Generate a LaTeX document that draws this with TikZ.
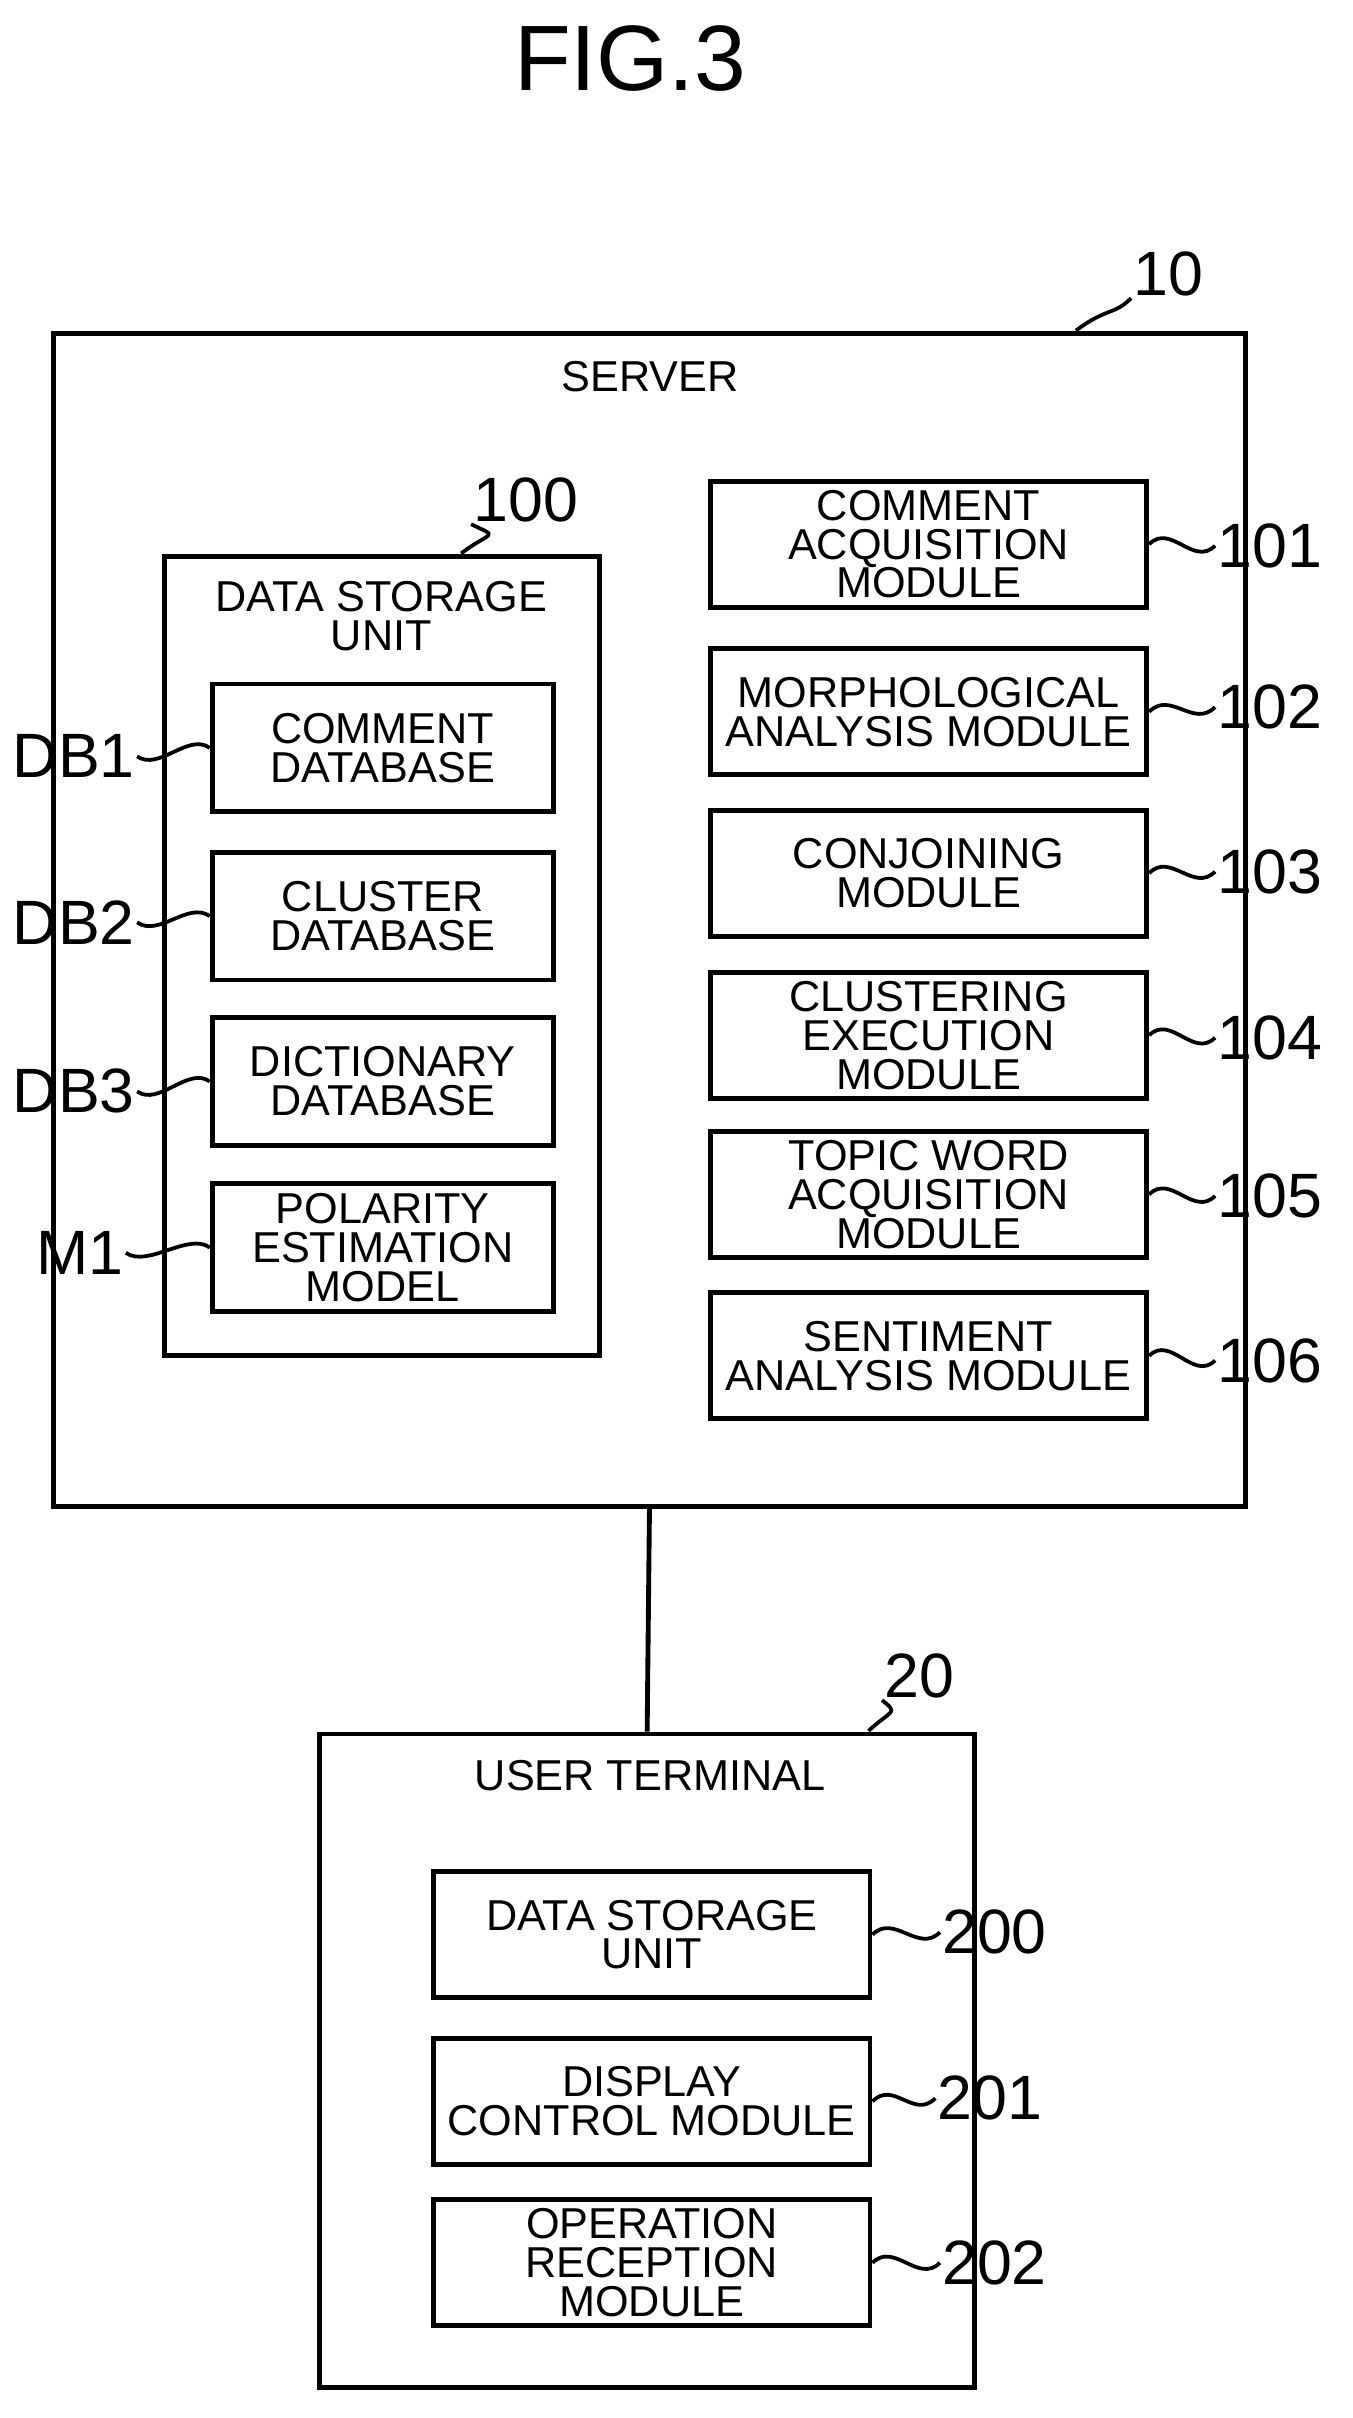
\documentclass[tikz,border=0pt]{standalone}
\usepackage{fontspec}
\setmainfont{Liberation Sans}
\usetikzlibrary{positioning}
\tikzset{
  box/.style={rectangle, draw=black, line width=4.5pt, align=center, inner sep=0pt,
    font=\fontsize{40}{36}\selectfont},
  mod/.style={box, minimum width=14.2cm, minimum height=4.1cm},
  db/.style={box, minimum width=11.1cm, minimum height=4.15cm},
  lbl/.style={font=\fontsize{58}{58}\selectfont, inner sep=2pt},
  lead/.style={line width=3.5pt}
}
\begin{document}
\begin{tikzpicture}[x=0.05cm, y=-0.05cm]
\useasboundingbox (0,0) rectangle (880,1573);

\node (fig) [font=\fontsize{86}{86}\selectfont] at (410,38) {FIG.3};

% server
\node (srv) [box, minimum width=38.75cm, minimum height=38.15cm] at (422.5,598.5) {};
\node (srvt) [font=\fontsize{40}{40}\selectfont] at (423,245) {SERVER};
\node (l10) [lbl] at (760,178) {10};
\node (dsu) [box, minimum width=14.15cm, minimum height=26cm] at (248.5,622) {};
\node (dsut) [font=\fontsize{40}{36}\selectfont, align=center] at (248,401) {DATA STORAGE\\UNIT};
\node (l100) [lbl] at (342,325) {100};

\node (db1) [db] at (249,486.5) {COMMENT\\DATABASE};
\node (db2) [db] at (249,596) {CLUSTER\\DATABASE};
\node (db3) [db] at (249,703.5) {DICTIONARY\\DATABASE};
\node (m1) [db] at (249,811.5) {POLARITY\\ESTIMATION\\MODEL};
\node (ldb1) [lbl] at (48,492) {DB1};
\node (ldb2) [lbl] at (48,600) {DB2};
\node (ldb3) [lbl] at (48,710) {DB3};
\node (lm1) [lbl] at (52,815) {M1};

\node (m101) [mod] at (604,354) {COMMENT\\ACQUISITION\\MODULE};
\node (m102) [mod] at (604,463) {MORPHOLOGICAL\\ANALYSIS MODULE};
\node (m103) [mod] at (604,568) {CONJOINING\\MODULE};
\node (m104) [mod] at (604,673.5) {CLUSTERING\\EXECUTION\\MODULE};
\node (m105) [mod] at (604,777) {TOPIC WORD\\ACQUISITION\\MODULE};
\node (m106) [mod] at (604,882) {SENTIMENT\\ANALYSIS MODULE};
\node (l101) [lbl] at (826,355) {101};
\node (l102) [lbl] at (826,460) {102};
\node (l103) [lbl] at (826,567) {103};
\node (l104) [lbl] at (826,675) {104};
\node (l105) [lbl] at (826,778) {105};
\node (l106) [lbl] at (826,885) {106};

% user terminal
\node (ut) [box, minimum width=21.3cm, minimum height=21.25cm] at (421,1340.5) {};
\node (utt) [font=\fontsize{40}{40}\selectfont] at (423,1155) {USER TERMINAL};
\node (l20) [lbl] at (598,1090) {20};
\node (m200) [mod] at (424,1258.5) {DATA STORAGE\\UNIT};
\node (m201) [mod] at (424,1367) {DISPLAY\\CONTROL MODULE};
\node (m202) [mod] at (424,1472) {OPERATION\\RECEPTION\\MODULE};
\node (l200) [lbl] at (647,1257) {200};
\node (l201) [lbl] at (644,1365) {201};
\node (l202) [lbl] at (647,1472) {202};

\draw [line width=4.5pt] (srv.south) -- (ut.north);

% leaders
\foreach \m in {101,102,103,104,105,106}
  \draw [lead] (m\m.east) .. controls +(14,-14) and +(-14,14) .. (l\m.west);
\foreach \m in {200,201,202}
  \draw [lead] (m\m.east) .. controls +(14,-14) and +(-14,14) .. (l\m.west);
\foreach \d in {db1,db2,db3,m1}
  \draw [lead] (\d.west) .. controls +(-14,-10) and +(14,10) .. (l\d.east);
\draw [lead] (700,215) .. controls (720,200) and (725,205) .. (l10.south west);
\draw [lead] (300,360) .. controls (320,345) and (325,350) .. (l100.south west);
\draw [lead] (565,1126) .. controls (580,1112) and (585,1115) .. (l20.south west);
\end{tikzpicture}
\end{document}
